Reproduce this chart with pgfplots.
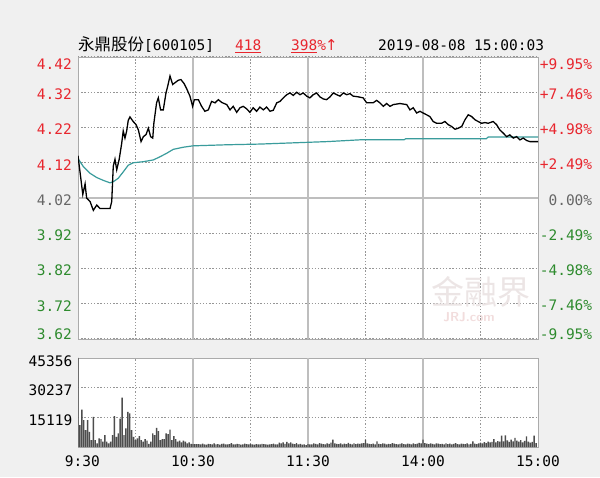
\documentclass[border=0pt]{standalone}
\usepackage{pgfplots}
\pgfplotsset{compat=1.18}
\usepackage{pgfplotstable}
\usepackage{fontspec}
\setmainfont{DejaVu Sans}
\setmonofont{DejaVu Sans Mono}
\newfontfamily\cjk{Noto Sans CJK SC}

\definecolor{bg}{HTML}{F0F0F0}
\definecolor{up}{HTML}{E8262E}
\definecolor{dn}{HTML}{2E8B2E}
\definecolor{flat}{HTML}{666666}
\definecolor{gridc}{HTML}{969696}
\definecolor{gridl}{HTML}{BEBEBE}
\definecolor{frame}{HTML}{ABABAB}
\definecolor{avgc}{HTML}{3A9C9C}
\definecolor{volc}{HTML}{4D4D4D}
\definecolor{wmark}{HTML}{ECE5E5}
\definecolor{wmark2}{HTML}{F2DDDD}

\newcommand{\numfont}{\ttfamily\fontsize{14.5}{16}\selectfont}

% minute index (0 = 9:30, 240 = 15:00), price
\pgfplotstableread{
m p
0 4.14
2.5 4.03
3.7 4.06
4.5 4.02
6.3 4.01
8 3.985
9.8 4.00
11.5 3.99
16.7 3.99
17.6 4.01
18.4 4.11
19.3 4.13
20.2 4.10
21.5 4.13
22.8 4.175
23.6 4.21
24.5 4.19
25.4 4.21
26.2 4.24
27.1 4.25
28.8 4.237
30.3 4.228
31.5 4.213
32.9 4.18
34.1 4.194
35.5 4.20
36.7 4.218
37.9 4.194
39 4.19
39.6 4.233
41 4.29
41.9 4.304
43.1 4.27
44.5 4.27
45.9 4.318
46.8 4.337
48 4.366
49.4 4.342
50.6 4.347
52.3 4.354
53.7 4.356
55.3 4.345
56.7 4.33
58.4 4.309
59.8 4.28
60.7 4.299
62.8 4.299
64.5 4.28
66.2 4.266
68 4.27
69.7 4.294
71.5 4.29
73.2 4.299
75 4.291
77.6 4.285
79.3 4.27
81 4.28
82.8 4.263
84.5 4.276
86.2 4.28
88 4.273
89.7 4.263
91.4 4.276
93.2 4.266
94.9 4.278
96.7 4.27
98.4 4.278
100.2 4.266
101.9 4.269
103.7 4.29
105.4 4.294
107.1 4.304
108.9 4.313
110.6 4.318
112.3 4.311
114.1 4.32
115.8 4.313
117.5 4.318
119.3 4.309
121 4.304
122.7 4.313
124.5 4.318
126.2 4.307
128 4.301
129.7 4.299
131.5 4.307
133.2 4.318
135 4.313
136.7 4.309
138.4 4.318
140.2 4.313
141.9 4.316
143.6 4.309
146.2 4.307
148.8 4.304
150.6 4.29
154 4.29
155.8 4.297
157.5 4.29
159.3 4.28
161 4.288
162.8 4.28
164.5 4.285
168 4.288
171.5 4.285
173.2 4.27
174.9 4.276
176.7 4.261
178.4 4.266
180.1 4.261
181.9 4.256
183.6 4.251
185.3 4.237
187.1 4.232
189.7 4.232
191.4 4.237
193.2 4.228
194.9 4.223
196.7 4.215
198.4 4.218
200.2 4.223
201.9 4.242
203.6 4.256
205.4 4.251
207.1 4.242
208.8 4.237
210.6 4.232
212.3 4.234
214 4.232
216.6 4.237
218.4 4.228
220.1 4.213
221.9 4.204
223.6 4.194
225.3 4.199
227.1 4.19
228.8 4.194
230.6 4.185
232.3 4.19
234.1 4.183
235.8 4.18
238.4 4.18
240 4.18
}\price

% average price
\pgfplotstableread{
m a
0 4.132
2.8 4.109
6.3 4.09
9.8 4.078
13.2 4.07
16.7 4.063
18.4 4.066
21 4.076
23.6 4.094
26.2 4.113
28.8 4.12
34.1 4.123
39.3 4.128
42.8 4.137
46.3 4.147
49.7 4.158
54.9 4.164
60.1 4.168
77.6 4.171
94.9 4.173
105 4.175
130 4.18
147 4.185
170 4.185
171 4.188
213 4.188
214 4.193
240 4.193
}\avgprice

% volume per minute, starting at 9:30
\pgfplotstableread{
v
45356
11150
19100
13700
8600
13700
7750
3550
15400
3550
1900
4400
4000
2700
6100
2700
1900
2700
6100
15700
5200
6900
14500
25200
6100
9500
17900
17100
8600
5200
3550
4400
5500
3550
2700
4000
3300
1650
2700
6900
6100
9700
8100
3550
4000
4000
6900
6500
8900
3550
5500
4000
2700
3300
2400
3300
2700
1900
2400
1650
1500
1500
1500
1500
1300
1700
1400
1200
1600
1500
1300
1800
1400
1500
1200
1600
1700
1300
1400
1500
2000
1400
1300
1600
1500
1200
1400
1700
1500
1300
1600
1400
1200
1500
1300
1400
1600
1500
1300
1200
1400
1500
1700
1400
1300
2200
1800
2400
1600
2600
1900
2300
1700
1500
2000
1400
1600
1200
1300
1000
1500
1300
1400
1800
1600
1300
2000
1700
1500
1400
1800
1600
2200
3700
1900
1600
1500
1800
1400
1700
1500
2100
1600
1400
1800
1500
1700
1600
1900
2000
3700
1800
1600
1500
1700
1400
2900
1600
1500
1800
1700
1400
1600
1500
2000
1700
1500
1400
1600
1800
1500
1300
1700
1600
1400
1900
1500
1700
2100
1800
3700
2000
1700
1500
1800
1600
1400
1900
1700
1500
1600
1400
1800
1500
1700
1300
1600
2000
1500
1400
1700
1600
1500
1800
1400
1600
2900
1700
1500
1800
2200
1900
2500
2000
2800
2300
2600
4000
2400
3000
2700
5800
2900
5950
3400
2600
3800
2900
4600
3200
2700
3500
2400
3100
5440
2800
2200
2600
5780
2000
}\volume

\tikzset{
  dotgrid/.style={gridc, line width=1.3pt, dash pattern=on 1.3pt off 1.9pt},
  solgrid/.style={gridl, line width=1.4pt},
}

\pgfplotsset{
  panel/.style={
    width=460pt, scale only axis,
    xmin=0, xmax=240,
    axis background/.style={fill=white},
    axis line style={frame, line width=0.9pt},
    major tick length=0pt,
    every tick label/.append style={font=\numfont},
    /pgf/number format/assume math mode=true,
    scaled y ticks=false,
    clip=true,
  },
}

\begin{document}
\begin{tikzpicture}[x=1pt, y=1pt]
\fill[bg] (0,0) rectangle (600,477);
\useasboundingbox (0,0) rectangle (600,477);

% title line
\node[anchor=base west, inner sep=0pt] at (78,426)
  {{\cjk\fontsize{16.5}{18}\selectfont 永鼎股份}{\numfont[600105]}};
\node[anchor=base west, inner sep=0pt, text=up] at (235,426) {\numfont\underline{418}};
\node[anchor=base west, inner sep=0pt, text=up] at (291,426)
  {\numfont\underline{398}\%{\fontspec{DejaVu Sans}\fontsize{15}{16}\selectfont\kern-1pt↑}};
\node[anchor=base west, inner sep=0pt] at (378,426) {\numfont 2019-08-08 15:00:03};

% price panel
\begin{axis}[panel,
  at={(78pt,138pt)}, anchor=south west, height=282pt,
  ymin=3.62, ymax=4.42,
  xtick={30,90,150,210}, xticklabels={},
  xmajorgrids=true, ymajorgrids=true,
  major grid style={dotgrid},
  ytick={3.62,3.72,3.82,3.92,4.02,4.12,4.22,4.32,4.42},
  yticklabels={
    \raisebox{7pt}[\height][\depth]{\textcolor{dn}{3.62}},
    \textcolor{dn}{3.72}, \textcolor{dn}{3.82}, \textcolor{dn}{3.92},
    \textcolor{flat}{4.02},
    \textcolor{up}{4.12}, \textcolor{up}{4.22}, \textcolor{up}{4.32},
    \raisebox{-5pt}[\height][\depth]{\textcolor{up}{4.42}}},
  yticklabel style={anchor=east, inner sep=0pt, xshift=-6pt, yshift=-2pt},
]
\pgfplotsinvokeforeach{60,120,180}{
  \draw[solgrid] (axis cs:#1,3.62) -- (axis cs:#1,4.42);}
\draw[gridl, line width=1.3pt] (axis cs:0,4.02) -- (axis cs:240,4.02);
\node[text=wmark, font=\cjk\fontsize{33}{33}\selectfont] at (axis cs:210,3.755) {金融界};
\node[text=wmark2, font=\sffamily\bfseries\fontsize{13}{13}\selectfont] at (axis cs:204,3.683) {JRJ.com};
\addplot[avgc, line width=1.2pt] table[x=m, y=a] {\avgprice};
\addplot[black, line width=1.3pt] table[x=m, y=p] {\price};
\end{axis}

% percentage labels on the right
\begin{axis}[
  at={(78pt,138pt)}, anchor=south west, width=460pt, height=282pt, scale only axis,
  xmin=0, xmax=240, ymin=-9.95, ymax=9.95,
  hide x axis, axis line style={draw=none},
  major tick length=0pt,
  ytick={-9.95,-7.46,-4.98,-2.49,0,2.49,4.98,7.46,9.95},
  yticklabels={
    \raisebox{7pt}[\height][\depth]{\textcolor{dn}{-9.95\%}},
    \textcolor{dn}{-7.46\%}, \textcolor{dn}{-4.98\%}, \textcolor{dn}{-2.49\%},
    \textcolor{flat}{0.00\%},
    \textcolor{up}{+2.49\%}, \textcolor{up}{+4.98\%}, \textcolor{up}{+7.46\%},
    \raisebox{-5pt}[\height][\depth]{\textcolor{up}{+9.95\%}}},
  yticklabel pos=right,
  yticklabel style={anchor=west, inner sep=0pt, text width=53pt, align=right, xshift=1pt, yshift=-2pt, font=\numfont},
]
\end{axis}

% volume panel
\begin{axis}[panel,
  at={(78pt,30pt)}, anchor=south west, height=89pt,
  ymin=0, ymax=45356,
  xtick={0,60,120,180,240},
  xticklabels={\hphantom{0}9:30, 10:30, 11:30, 14:00, 15:00},
  xticklabel style={anchor=north, inner sep=0pt, yshift=-9pt},
  ytick={15119,30237,45356},
  yticklabels={15119,30237,45356},
  yticklabel style={anchor=east, inner sep=0pt, xshift=-5.5pt, yshift=-3pt},
]
\pgfplotsinvokeforeach{15119,30237}{
  \draw[dotgrid] (axis cs:0,#1) -- (axis cs:240,#1);}
\pgfplotsinvokeforeach{30,90,150,210}{
  \draw[dotgrid] (axis cs:#1,0) -- (axis cs:#1,45356);}
\pgfplotsinvokeforeach{60,120,180}{
  \draw[solgrid] (axis cs:#1,0) -- (axis cs:#1,45356);}
\addplot[ybar, bar width=1.4pt, fill=volc, draw=none] table[x expr=\coordindex, y=v] {\volume};
\end{axis}
\end{tikzpicture}
\end{document}
